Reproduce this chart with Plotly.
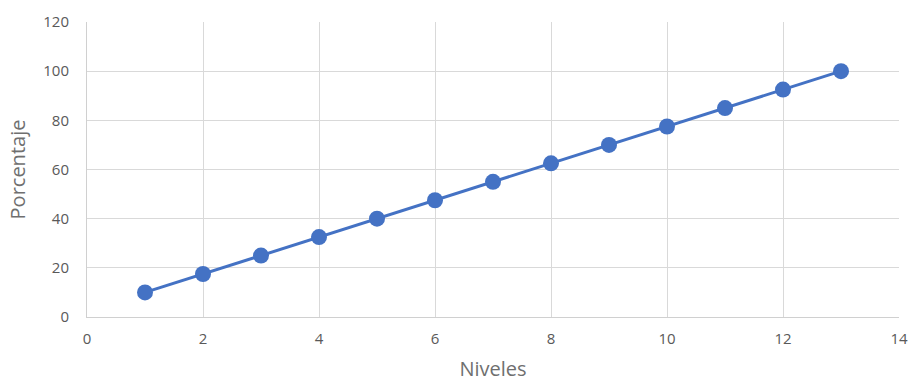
import plotly.graph_objects as go

niveles = [1, 2, 3, 4, 5, 6, 7, 8, 9, 10, 11, 12, 13]
porcentaje = [10, 17.5, 25, 32.5, 40, 47.5, 55, 62.5, 70, 77.5, 85, 92.5, 100]

fig = go.Figure()
fig.add_trace(go.Scatter(
    x=niveles, y=porcentaje, mode="lines+markers",
    line=dict(color="#4472C4", width=3),
    marker=dict(color="#4472C4", size=16),
    showlegend=False,
))

axis_common = dict(
    showgrid=True, gridcolor="#d9d9d9", gridwidth=1,
    showline=True, linecolor="#d0d0d0", linewidth=1, mirror=False,
    zeroline=False, ticks="", automargin=False,
    tickfont=dict(family="Open Sans, sans-serif", size=15, color="#595959"),
)

title_font = dict(family="Open Sans, sans-serif", size=20, color="#6f6f6f")

fig.update_layout(
    width=911, height=383,
    margin=dict(l=87, r=12, t=22, b=66),
    plot_bgcolor="white", paper_bgcolor="white",
    xaxis=dict(range=[0, 14], dtick=2, tick0=0, ticklabelstandoff=8,
               title=dict(text="Niveles", font=title_font, standoff=14),
               **axis_common),
    yaxis=dict(range=[0, 120], dtick=20, tick0=0, ticklabelstandoff=14,
               title=dict(text="Porcentaje", font=title_font, standoff=12),
               **axis_common),
)

fig.write_html("out.html", config={"displayModeBar": False},
               post_script="document.body.style.margin='0';document.body.style.padding='0';")
